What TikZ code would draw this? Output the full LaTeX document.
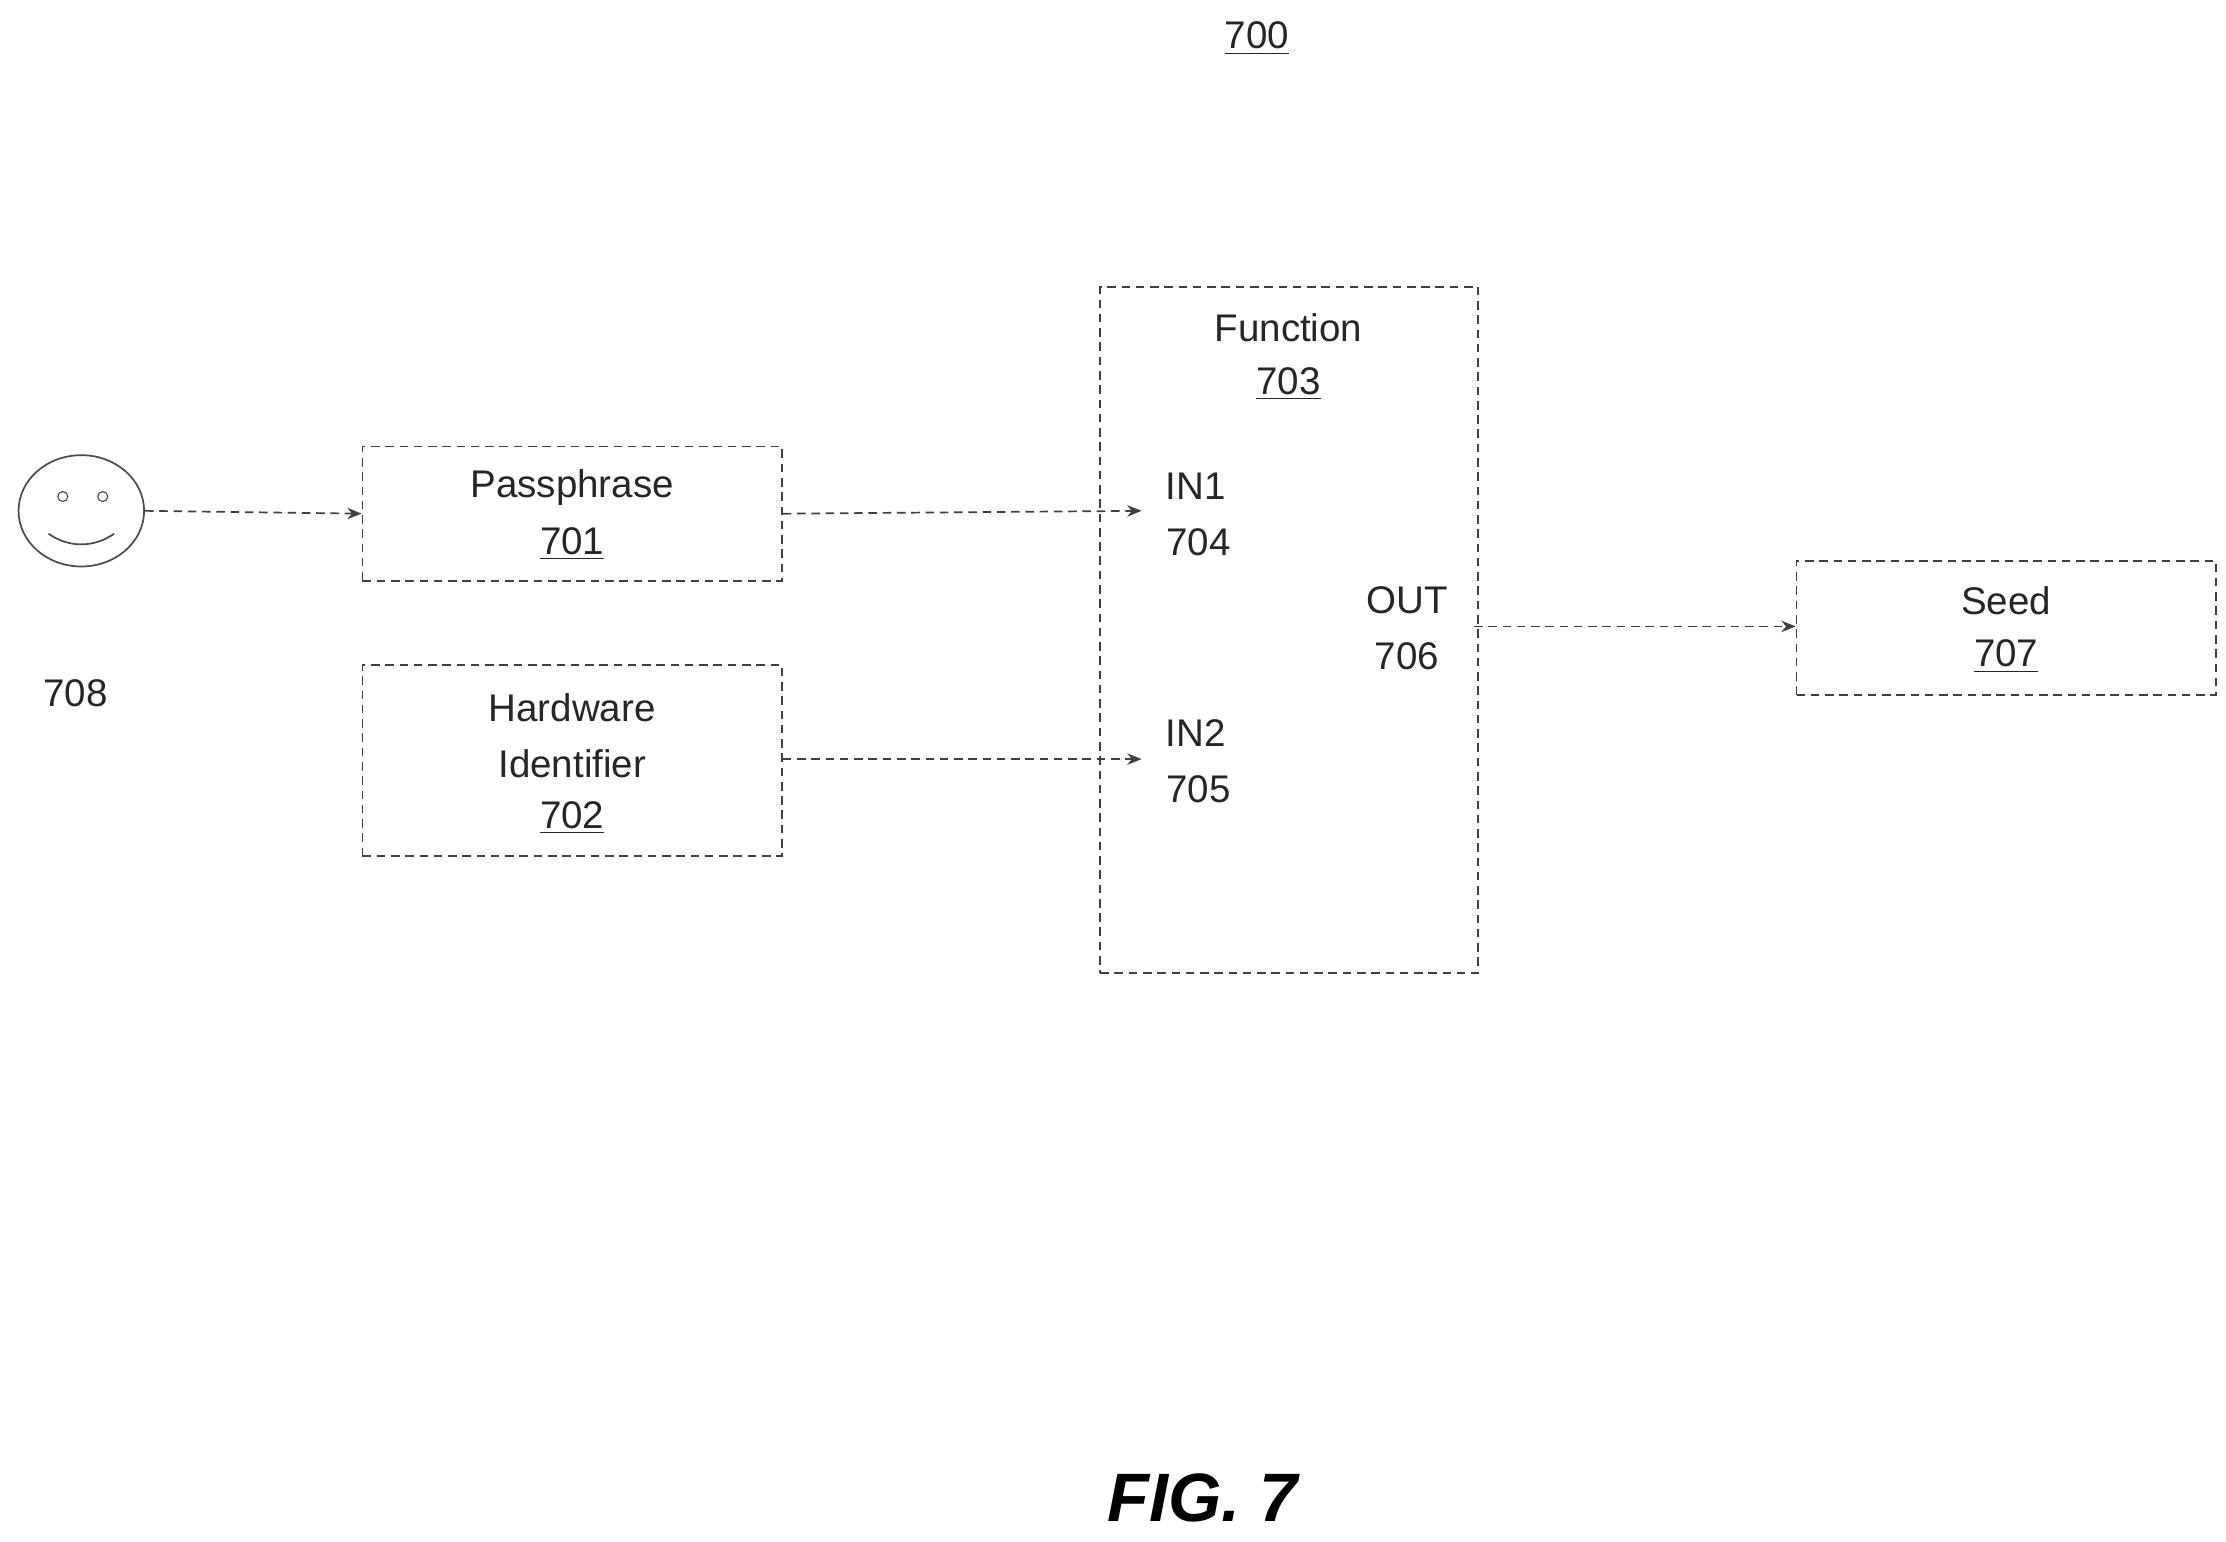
\documentclass[tikz,border=0pt]{standalone}
\usepackage{fontspec}
\setmainfont{Liberation Sans}
\usetikzlibrary{arrows.meta,shapes.geometric}
\begin{document}
\begin{tikzpicture}[x=0.5pt,y=-0.5pt,
  box/.style={draw=black!75,densely dashed,line width=0.6pt,inner sep=0pt},
  lbl/.style={font=\fontsize{13.5}{16}\selectfont,text=black!85},
  arr/.style={draw=black!75,densely dashed,line width=0.6pt,-{Stealth[length=5pt,width=4pt]}}]
\useasboundingbox (0,0) rectangle (1560,1080);
\newcommand{\ulx}[1]{\underline{#1}}
\node[lbl] (t700) at (881,27) {\ulx{700}};
% smiley
\node[draw=black!70,ellipse,minimum width=44pt,minimum height=39pt,line width=0.6pt] (face) at (57,358) {};
\node[draw=black!70,circle,minimum size=3.5pt,inner sep=0pt] (e1) at (44,348) {};
\node[draw=black!70,circle,minimum size=3.5pt,inner sep=0pt] (e2) at (72,348) {};
\draw[black!70,line width=0.6pt] (34,374) .. controls (48,384) and (66,384) .. (80,374);
\node[lbl] (n708) at (53,486) {708};
% boxes
\node[box,minimum width=147pt,minimum height=47pt] (pass) at (401,360) {};
\node[lbl] (passt) at (401,342) {Passphrase};
\node[lbl] (pass2) at (401,381) {\ulx{701}};
\node[box,minimum width=147pt,minimum height=67pt] (hw) at (401,533) {};
\node[lbl] (hw1) at (401,496) {Hardware};
\node[lbl] (hw2) at (401,535) {Identifier};
\node[lbl] (hw3) at (401,573) {\ulx{702}};
\node[box,minimum width=132.5pt,minimum height=240.5pt] (fn) at (903.5,441.5) {};
\node[lbl] (fn1) at (903,230) {Function};
\node[lbl] (fn2) at (903,269) {\ulx{703}};
\node[lbl] (in1) at (838,341) {IN1};
\node[lbl] (in1n) at (840,380) {704};
\node[lbl] (in2) at (838,514) {IN2};
\node[lbl] (in2n) at (840,553) {705};
\node[lbl] (out) at (986,421) {OUT};
\node[lbl] (outn) at (986,460) {706};
\node[box,minimum width=147pt,minimum height=47pt] (seed) at (1406,440) {};
\node[lbl] (seed1) at (1406,421) {Seed};
\node[lbl] (seed2) at (1406,460) {\ulx{707}};
\coordinate (a1) at (800,358);
\coordinate (a2) at (800,532);
\coordinate (o1) at (1033,439);
\draw[arr] (face.east) -- (pass.west);
\draw[arr] (pass.east) -- (a1);
\draw[arr] (hw.east |- a2) -- (a2);
\draw[arr] (o1) -- (seed.west |- o1);
\node[font=\fontsize{24}{28}\selectfont\bfseries\itshape] (fig) at (843,1050) {FIG. 7};
\end{tikzpicture}
\end{document}
